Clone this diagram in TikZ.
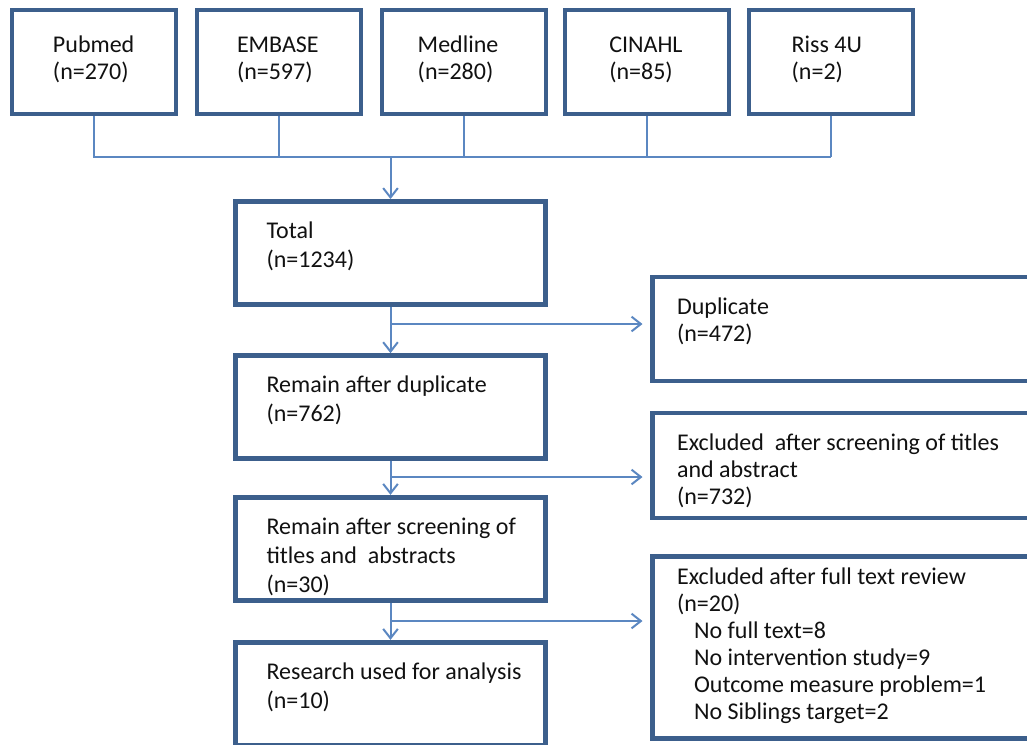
\documentclass[tikz,border=0pt]{standalone}
\usepackage{fontspec}
\setmainfont{Carlito}
\usetikzlibrary{arrows.meta}
\definecolor{boxblue}{HTML}{3C5F8C}
\definecolor{linkblue}{HTML}{5B87C1}
\definecolor{ink}{HTML}{111111}
% box text: width, height, left inset, top inset, lines
\newcommand{\boxtext}[5]{\parbox[t][#2][t]{#1}{\raggedright\leftskip=#3\relax\vspace*{#4}\strut#5}}
\tikzset{
  flowbox/.style={draw=boxblue, line width=3.5pt, inner sep=0pt, outer sep=0pt, anchor=north west, text=ink},
  srcbox/.style={flowbox, font=\fontsize{18}{20.25}\selectfont},
  mainbox/.style={flowbox, font=\fontsize{18}{21.75}\selectfont},
  sidebox/.style={flowbox, font=\fontsize{18}{20.25}\selectfont},
  link/.style={draw=linkblue, line width=1.5pt},
  flowarrow/.style={link, -{Straight Barb[length=7pt,width=11pt]}, shorten >=2pt},
}
\begin{document}
\begin{tikzpicture}[x=0.75pt, y=-0.75pt]
    \path[use as bounding box, clip] (0,0) rectangle (1027,744);
    % databases
    \node[srcbox] (pubmed) at (12,10) {\boxtext{123pt}{78pt}{30.75pt}{17.6pt}{Pubmed\\(n=270)}};
    \node[srcbox] (embase) at (197,10) {\boxtext{123pt}{78pt}{30pt}{17.6pt}{EMBASE\\(n=597)}};
    \node[srcbox] (medline) at (382,10) {\boxtext{123pt}{78pt}{26.8pt}{17.6pt}{Medline\\(n=280)}};
    \node[srcbox] (cinahl) at (565,10) {\boxtext{123pt}{78pt}{33.2pt}{17.6pt}{CINAHL\\(n=85)}};
    \node[srcbox] (riss) at (749,10) {\boxtext{123pt}{78pt}{32pt}{17.6pt}{Riss 4U\\(n=2)}};
    % main column
    \node[mainbox] (total) at (235.5,201.7) {\boxtext{232.5pt}{77.25pt}{23.3pt}{12.3pt}{Total\\(n=1234)}};
    \node[mainbox] (remain) at (235.5,355.8) {\boxtext{232.5pt}{77.25pt}{23.3pt}{12.3pt}{Remain after duplicate\\(n=762)}};
    \node[mainbox] (screened) at (235.5,497.5) {\boxtext{232.5pt}{77.25pt}{23.3pt}{12.3pt}{Remain after screening of\\titles and\ \ abstracts\\(n=30)}};
    \node[mainbox] (research) at (235.5,642.5) {\boxtext{232.5pt}{77.25pt}{23.3pt}{12.3pt}{Research used for analysis\\(n=10)}};
    % excluded records
    \node[sidebox] (duplicate) at (652.5,277) {\boxtext{300pt}{78pt}{18.4pt}{14.3pt}{Duplicate\\(n=472)}};
    \node[sidebox] (excluded1) at (652.5,413) {\boxtext{300pt}{78.75pt}{18.4pt}{14.3pt}{Excluded\ \ after screening of titles\\and abstract\\(n=732)}};
    \node[sidebox] (excluded2) at (652.5,556.7) {\boxtext{300pt}{136.5pt}{18.4pt}{6.9pt}{Excluded after full text review\\(n=20)\\
        \hspace*{12.75pt}No full text=8\\
        \hspace*{12.75pt}No intervention study=9\\
        \hspace*{12.75pt}Outcome measure problem=1\\
        \hspace*{12.75pt}No Siblings target=2}};
    % connectors
    \coordinate (hub) at (0,157);
    \coordinate (split1) at (0,324);
    \coordinate (split2) at (0,477);
    \coordinate (split3) at (0,621);
    \foreach \src in {embase,medline,cinahl,riss}
        \draw[link, shorten <=1.75pt] (\src.south) -- (\src.south |- hub);
    \draw[link, shorten <=1.75pt] (pubmed.south) |- (riss.south |- hub);
    \draw[flowarrow] (total.north |- hub) -- (total.north);
    \draw[flowarrow, shorten <=1.75pt] (total.south) -- (remain.north);
    \draw[flowarrow, shorten >=7.5pt] (total.south |- split1) -- (duplicate.west |- split1);
    \draw[flowarrow, shorten <=1.75pt] (remain.south) -- (screened.north);
    \draw[flowarrow, shorten >=7.5pt] (remain.south |- split2) -- (excluded1.west |- split2);
    \draw[flowarrow, shorten <=1.75pt] (screened.south) -- (research.north);
    \draw[flowarrow, shorten >=7.5pt] (screened.south |- split3) -- (excluded2.west |- split3);
\end{tikzpicture}
\end{document}
